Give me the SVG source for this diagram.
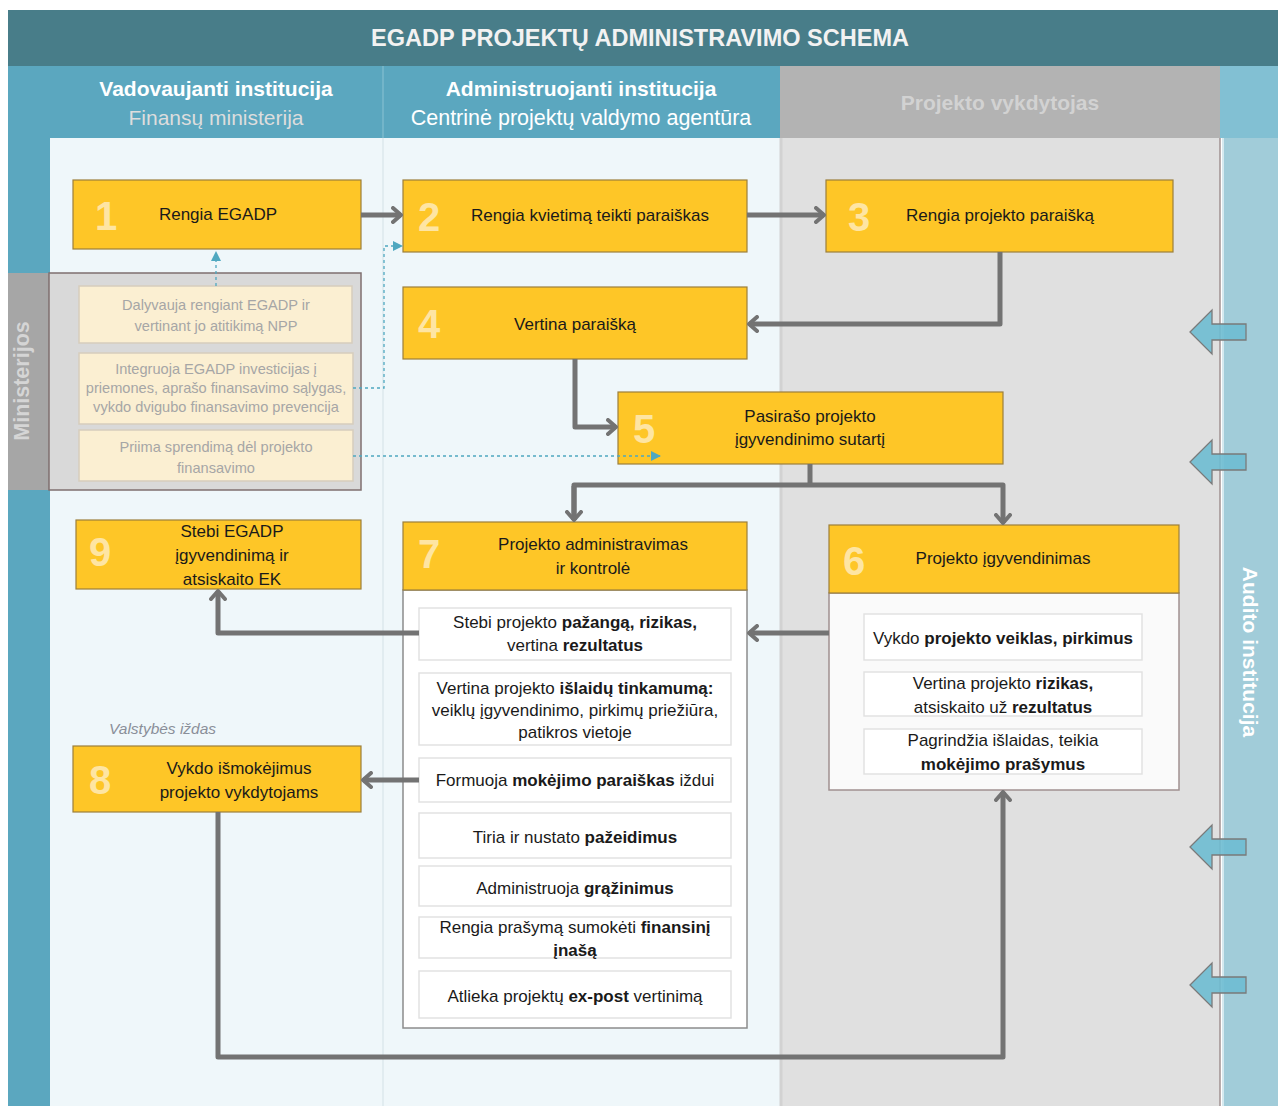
<svg xmlns="http://www.w3.org/2000/svg" width="1278" height="1106" viewBox="0 0 1278 1106">
<defs>
<style>
.t{font-family:"Liberation Sans",Arial,sans-serif;}
.node{fill:#fec627;stroke:#9c7f3b;stroke-width:1.2;}
.num{font-family:"Liberation Sans",Arial,sans-serif;font-weight:bold;font-size:40px;fill:#fee5a3;}
.lbl{font-family:"Liberation Sans",Arial,sans-serif;font-size:17px;fill:#1a1a1a;text-anchor:middle;}
.sub{fill:#ffffff;stroke:#e2e2e2;stroke-width:1.5;}
.st{font-family:"Liberation Sans",Arial,sans-serif;font-size:17px;fill:#1a1a1a;text-anchor:middle;}
.b{font-weight:bold;}
.ms{fill:#fbefd2;stroke:#d6cdbd;stroke-width:1.5;}
.mt{font-family:"Liberation Sans",Arial,sans-serif;font-size:14.6px;fill:#a6a6a6;text-anchor:middle;}
.con{fill:none;stroke:#737373;stroke-width:5;stroke-linejoin:round;}
.dot{fill:none;stroke:#4fa8c0;stroke-width:1.3;stroke-dasharray:3 3;}
.barr{fill:#6ebcd2;fill-opacity:0.9;stroke:#7a7a7a;stroke-width:1.3;}
</style>
<marker id="ah" viewBox="0 0 12 18" refX="10" refY="9" markerWidth="12" markerHeight="18" markerUnits="userSpaceOnUse" orient="auto">
<path d="M2,2 L10,9 L2,16" fill="none" stroke="#737373" stroke-width="4" stroke-linecap="round" stroke-linejoin="round"/>
</marker>
<marker id="th" viewBox="0 0 10 10" refX="9" refY="5" markerWidth="10" markerHeight="10" markerUnits="userSpaceOnUse" orient="auto">
<path d="M0,0 L10,5 L0,10 Z" fill="#4fa8c0"/>
</marker>
</defs>

<rect x="0" y="0" width="1278" height="1106" fill="#ffffff"/>
<g id="background">
<rect x="8" y="10" width="1270" height="56" fill="#487d89"/>
<rect x="8" y="66" width="42" height="1040" fill="#5ba7bf"/>
<rect x="50" y="66" width="333" height="72" fill="#5ba7bf"/>
<rect x="383" y="66" width="397" height="72" fill="#5ba7bf"/>
<line x1="383" y1="66" x2="383" y2="138" stroke="#8cc3d3" stroke-width="1"/>
<rect x="780" y="66" width="440" height="72" fill="#b3b3b3"/>
<rect x="1220" y="66" width="58" height="72" fill="#82c0d3"/>
<rect x="50" y="138" width="730" height="968" fill="#eff7fa"/>
<line x1="383" y1="138" x2="383" y2="1106" stroke="#dce8ed" stroke-width="1.5"/>
<rect x="780" y="138" width="440" height="968" fill="#e0e0e0"/>
<line x1="781" y1="138" x2="781" y2="1106" stroke="#d2d2d2" stroke-width="3"/>
<rect x="1222" y="138" width="56" height="968" fill="#a1ccd9"/>
<line x1="1220" y1="138" x2="1220" y2="1106" stroke="#a09292" stroke-width="1.5"/>
<line x1="1223" y1="138" x2="1223" y2="1106" stroke="#e8f3f6" stroke-width="1.5"/>
</g>

<g id="titles">
<text x="640" y="46" class="t" font-size="23" font-weight="bold" fill="#f2f2f2" text-anchor="middle" textLength="538" lengthAdjust="spacingAndGlyphs">EGADP PROJEKTŲ ADMINISTRAVIMO SCHEMA</text>
<text x="216" y="96" class="t" font-size="21" font-weight="bold" fill="#ffffff" text-anchor="middle">Vadovaujanti institucija</text>
<text x="216" y="125" class="t" font-size="21" fill="#dddddd" text-anchor="middle">Finansų ministerija</text>
<text x="581" y="96" class="t" font-size="21" font-weight="bold" fill="#ffffff" text-anchor="middle">Administruojanti institucija</text>
<text x="581" y="125" class="t" font-size="21.5" fill="#ffffff" text-anchor="middle">Centrinė projektų valdymo agentūra</text>
<text x="1000" y="110" class="t" font-size="21" font-weight="bold" fill="#d2d2d2" text-anchor="middle">Projekto vykdytojas</text>
<text transform="translate(1243,652) rotate(90)" class="t" font-size="21" font-weight="bold" fill="#ffffff" text-anchor="middle">Audito institucija</text>
</g>

<g id="ministerijos">
<rect x="8" y="273" width="41" height="217" fill="#a6a6a6"/>
<text transform="translate(29,381) rotate(-90)" class="t" font-size="21.5" font-weight="bold" fill="#d5d5d5" text-anchor="middle">Ministerijos</text>
<rect x="49" y="273" width="312" height="217" fill="#d9d9d9" stroke="#7f6f6f" stroke-width="1.5"/>
<g id="m1">
<rect x="79" y="286" width="273" height="57" class="ms"/>
<text x="216" y="310" class="mt" font-size="16.5">Dalyvauja rengiant EGADP ir</text>
<text x="216" y="331" class="mt" font-size="16.5">vertinant jo atitikimą NPP</text>
</g>
<g id="m2">
<rect x="79" y="353" width="274" height="71" class="ms"/>
<text x="216" y="374" class="mt">Integruoja EGADP investicijas į</text>
<text x="216" y="393" class="mt">priemones, aprašo finansavimo sąlygas,</text>
<text x="216" y="412" class="mt">vykdo dvigubo finansavimo prevencija</text>
</g>
<g id="m3">
<rect x="79" y="430" width="274" height="51" class="ms"/>
<text x="216" y="452" class="mt" font-size="16.5">Priima sprendimą dėl projekto</text>
<text x="216" y="473" class="mt" font-size="16.5">finansavimo</text>
</g>
</g>

<g id="audit-arrows">
<path class="barr" d="M1190,332 L1212,310 L1212,324 L1246,324 L1246,340 L1212,340 L1212,354 Z"/>
<path class="barr" d="M1190,462 L1212,440 L1212,454 L1246,454 L1246,470 L1212,470 L1212,484 Z"/>
<path class="barr" d="M1190,847 L1212,825 L1212,839 L1246,839 L1246,855 L1212,855 L1212,869 Z"/>
<path class="barr" d="M1190,985 L1212,963 L1212,977 L1246,977 L1246,993 L1212,993 L1212,1007 Z"/>
</g>

<g id="node1">
<rect x="73" y="180" width="288" height="69" class="node"/>
<text x="95" y="230" class="num">1</text>
<text x="218" y="220" class="lbl">Rengia EGADP</text>
</g>
<g id="node2">
<rect x="403" y="180" width="344" height="72" class="node"/>
<text x="418" y="231" class="num">2</text>
<text x="590" y="221" class="lbl">Rengia kvietimą teikti paraiškas</text>
</g>
<g id="node3">
<rect x="826" y="180" width="347" height="72" class="node"/>
<text x="848" y="231" class="num">3</text>
<text x="1000" y="221" class="lbl">Rengia projekto paraišką</text>
</g>
<g id="node4">
<rect x="403" y="287" width="344" height="72" class="node"/>
<text x="418" y="338" class="num">4</text>
<text x="575" y="330" class="lbl">Vertina paraišką</text>
</g>
<g id="node5">
<rect x="618" y="392" width="385" height="72" class="node"/>
<text x="633" y="443" class="num">5</text>
<text x="810" y="422" class="lbl">Pasirašo projekto</text>
<text x="810" y="445" class="lbl">įgyvendinimo sutartį</text>
</g>
<g id="node9">
<rect x="76" y="520" width="285" height="69" class="node"/>
<text x="89" y="566" class="num">9</text>
<text x="232" y="537" class="lbl">Stebi EGADP</text>
<text x="232" y="561" class="lbl">įgyvendinimą ir</text>
<text x="232" y="585" class="lbl">atsiskaito EK</text>
</g>
<g id="node8">
<rect x="73" y="746" width="288" height="66" class="node"/>
<text x="89" y="794" class="num">8</text>
<text x="239" y="774" class="lbl">Vykdo išmokėjimus</text>
<text x="239" y="798" class="lbl">projekto vykdytojams</text>
<text x="109" y="734" class="t" font-size="15.5" font-style="italic" fill="#8a8f99">Valstybės iždas</text>
</g>

<g id="node7">
<rect x="403" y="590" width="344" height="438" fill="#ffffff" stroke="#8c8c8c" stroke-width="1.5"/>
<rect x="403" y="522" width="344" height="68" class="node"/>
<text x="418" y="568" class="num">7</text>
<text x="593" y="550" class="lbl">Projekto administravimas</text>
<text x="593" y="574" class="lbl">ir kontrolė</text>
<rect x="419" y="608" width="312" height="52" class="sub"/>
<text x="575" y="628" class="st">Stebi projekto <tspan class="b">pažangą, rizikas,</tspan></text>
<text x="575" y="651" class="st">vertina <tspan class="b">rezultatus</tspan></text>
<rect x="419" y="673" width="312" height="72" class="sub"/>
<text x="575" y="694" class="st" font-size="18.5">Vertina projekto <tspan class="b">išlaidų tinkamumą:</tspan></text>
<text x="575" y="716" class="st" font-size="15">veiklų įgyvendinimo, pirkimų priežiūra,</text>
<text x="575" y="738" class="st" font-size="15">patikros vietoje</text>
<rect x="419" y="758" width="312" height="44" class="sub"/>
<text x="575" y="786" class="st">Formuoja <tspan class="b">mokėjimo paraiškas</tspan> iždui</text>
<rect x="419" y="813" width="312" height="45" class="sub"/>
<text x="575" y="843" class="st">Tiria ir nustato <tspan class="b">pažeidimus</tspan></text>
<rect x="419" y="866" width="312" height="40" class="sub"/>
<text x="575" y="894" class="st">Administruoja <tspan class="b">grąžinimus</tspan></text>
<rect x="419" y="917" width="312" height="41" class="sub"/>
<text x="575" y="933" class="st">Rengia prašymą sumokėti <tspan class="b">finansinį</tspan></text>
<text x="575" y="956" class="st b">įnašą</text>
<rect x="419" y="971" width="312" height="47" class="sub"/>
<text x="575" y="1002" class="st">Atlieka projektų <tspan class="b">ex-post</tspan> vertinimą</text>
</g>

<g id="node6">
<rect x="829" y="593" width="350" height="197" fill="#fafafa" stroke="#a09090" stroke-width="1.5"/>
<rect x="829" y="525" width="350" height="68" class="node"/>
<text x="843" y="575" class="num">6</text>
<text x="1003" y="564" class="lbl">Projekto įgyvendinimas</text>
<rect x="864" y="614" width="278" height="46" class="sub"/>
<text x="1003" y="644" class="st">Vykdo <tspan class="b">projekto veiklas, pirkimus</tspan></text>
<rect x="864" y="672" width="278" height="44" class="sub"/>
<text x="1003" y="689" class="st">Vertina projekto <tspan class="b">rizikas,</tspan></text>
<text x="1003" y="713" class="st">atsiskaito už <tspan class="b">rezultatus</tspan></text>
<rect x="864" y="729" width="278" height="45" class="sub"/>
<text x="1003" y="746" class="st">Pagrindžia išlaidas, teikia</text>
<text x="1003" y="770" class="st b">mokėjimo prašymus</text>
</g>

<g id="connectors">
<path class="con" d="M361,215 H401" marker-end="url(#ah)"/>
<path class="con" d="M747,215 H824" marker-end="url(#ah)"/>
<path class="con" d="M1000,252 V324 H749" marker-end="url(#ah)"/>
<path class="con" d="M575,359 V427 H616" marker-end="url(#ah)"/>
<path class="con" d="M810,464 V485"/>
<path class="con" d="M574,520 V485 H1003 V523" marker-end="url(#ah)"/>
<path class="con" d="M574,486 V520" marker-end="url(#ah)"/>
<path class="con" d="M829,633 H749" marker-end="url(#ah)"/>
<path class="con" d="M419,633 H218 V591" marker-end="url(#ah)"/>
<path class="con" d="M419,780 H363" marker-end="url(#ah)"/>
<path class="con" d="M218,812 V1057 H1003 V792" marker-end="url(#ah)"/>
<path class="dot" d="M216,286 V252" marker-end="url(#th)"/>
<path class="dot" d="M353,388 H384 V246 H402" marker-end="url(#th)"/>
<path class="dot" d="M353,456 H660" marker-end="url(#th)"/>
</g>
</svg>
